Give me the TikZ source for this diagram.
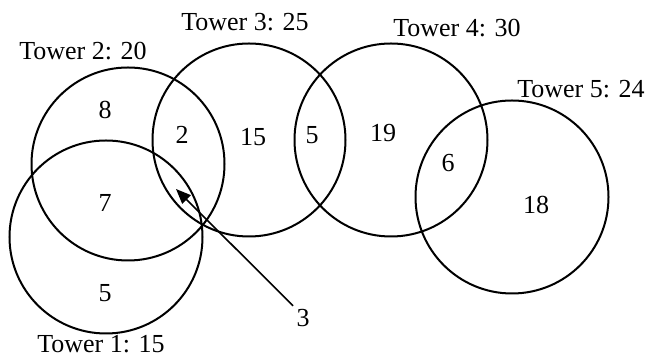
\documentclass[tikz,border=0pt]{standalone}
\usepackage{fontspec}
\setmainfont{Liberation Serif}
\usetikzlibrary{arrows.meta}

\begin{document}
\begin{tikzpicture}[x=0.5pt,y=-0.5pt,
  tower/.style={circle,draw,line width=1pt,minimum size=96.5pt,inner sep=0pt},
  lbl/.style={font=\fontsize{13}{15}\selectfont,inner sep=0pt}]
 \useasboundingbox (0,0) rectangle (648,356);

 % the five coverage circles
 \node[tower] (t1) at (106,237) {};
 \node[tower] (t2) at (128,164) {};
 \node[tower] (t3) at (249,140) {};
 \node[tower] (t4) at (391,140) {};
 \node[tower] (t5) at (512,197) {};

 % tower names
 \node[lbl] (n1) at (101,344) {Tower 1: 15};
 \node[lbl] (n2) at (83,51) {Tower 2: 20};
 \node[lbl] (n3) at (245,22) {Tower 3: 25};
 \node[lbl] (n4) at (457,28) {Tower 4: 30};
 \node[lbl] (n5) at (581,89) {Tower 5: 24};

 % counts per region
 \node[lbl] (r8)  at (105,110) {8};
 \node[lbl] (r2)  at (182,135) {2};
 \node[lbl] (r15) at (253,137) {15};
 \node[lbl] (r5a) at (312,135) {5};
 \node[lbl] (r7)  at (105,203) {7};
 \node[lbl] (r5b) at (105,293) {5};
 \node[lbl] (r19) at (383,133) {19};
 \node[lbl] (r6)  at (448,163) {6};
 \node[lbl] (r18) at (536,205) {18};
 \node[lbl] (r3)  at (303,318) {3};

 \coordinate (tip) at (176,189);
 \draw[line width=0.8pt,-{Triangle[length=7.5pt,width=6pt]}]
   (r3.north west) ++(-3,-3) -- (tip);
\end{tikzpicture}
\end{document}
